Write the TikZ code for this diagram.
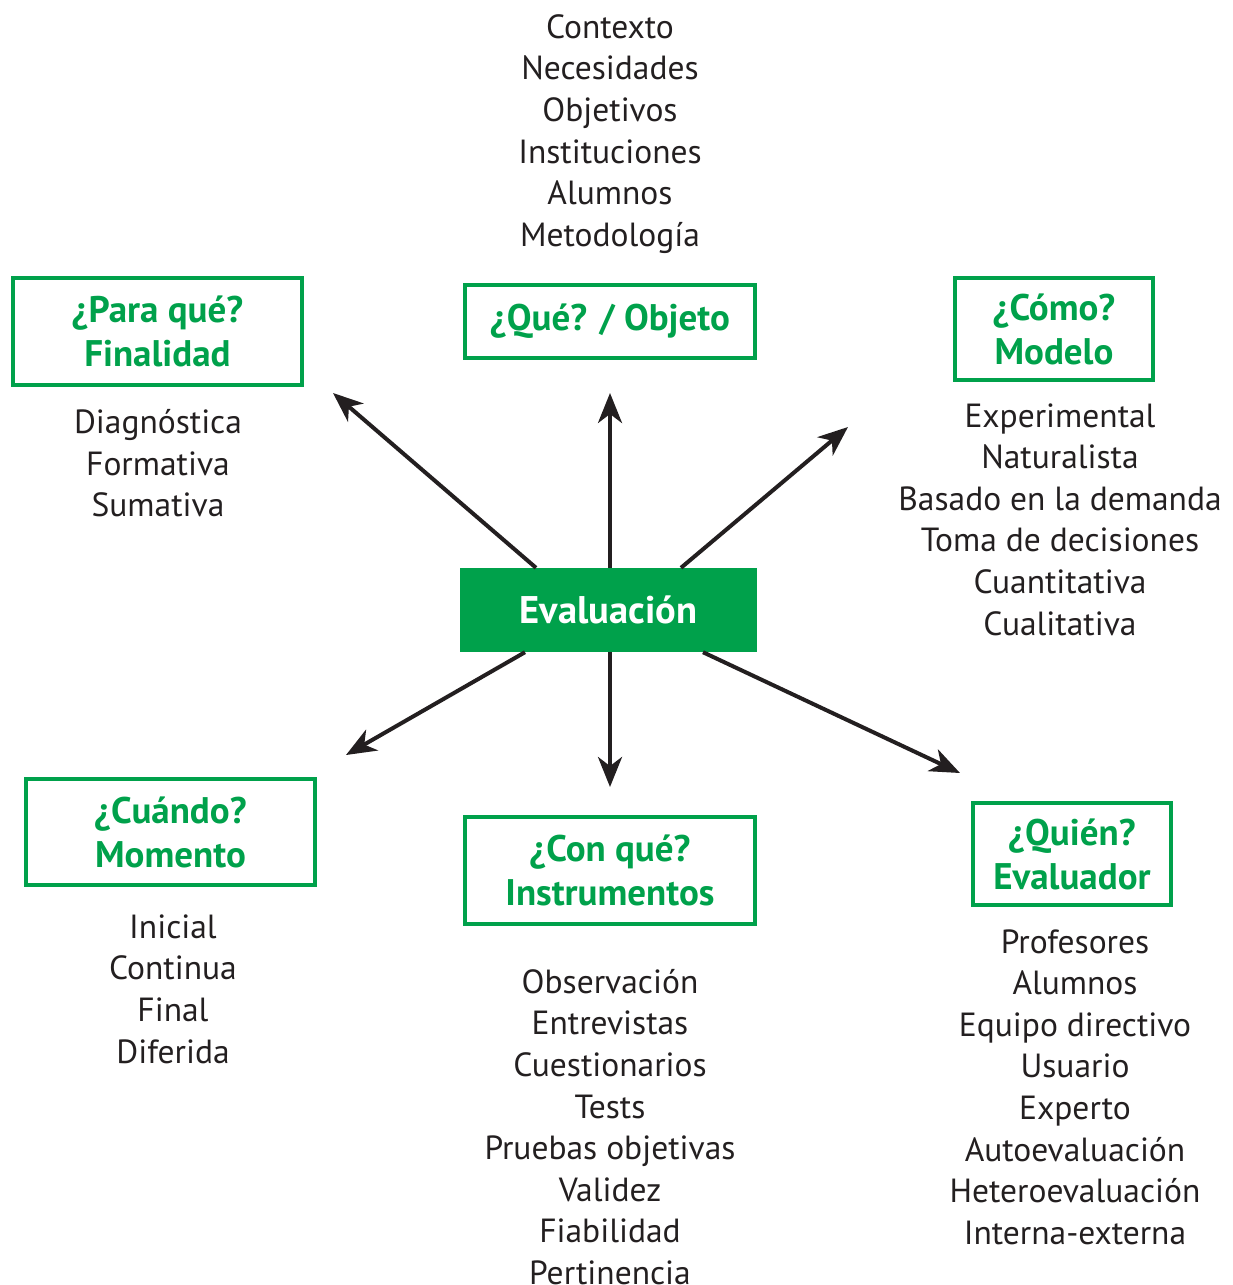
\documentclass[tikz,border=0pt]{standalone}
\usepackage{fontspec}
\setmainfont{PT Sans}
\usetikzlibrary{arrows.meta}
\definecolor{evgreen}{HTML}{00A14B}
\definecolor{ink}{HTML}{231F20}
\begin{document}
\begin{tikzpicture}[x=1pt,y=-1pt,
  lst/.style={align=center, inner sep=0pt, text=ink, font=\fontsize{33.5}{41.6}\selectfont},
  qbox/.style={draw=evgreen, line width=4pt, align=center, inner sep=0pt, text=evgreen, font=\bfseries\fontsize{37}{44}\selectfont},
  arr/.style={line width=4pt, draw=ink, -{Stealth[length=30pt,width=24pt,inset=9pt]}}]
\useasboundingbox (0,0) rectangle (1232,1285);

% central node
\node[fill=evgreen, minimum width=297pt, minimum height=84pt, inner sep=0pt, text=white, font=\bfseries\fontsize{38.5}{40}\selectfont] (eval) at (608.5,610) {Evaluación};

% question boxes
\node[qbox, minimum width=290pt, minimum height=73pt] (objeto) at (610,321.5) {¿Qué? / Objeto};
\node[qbox, minimum width=289pt, minimum height=107pt] (finalidad) at (157.5,331.5) {¿Para qué?\\Finalidad};
\node[qbox, minimum width=198pt, minimum height=102pt] (modelo) at (1054,329) {¿Cómo?\\Modelo};
\node[qbox, minimum width=289pt, minimum height=106pt] (momento) at (170.5,832) {¿Cuándo?\\Momento};
\node[qbox, minimum width=290pt, minimum height=107pt] (instrumentos) at (610,870.5) {¿Con qué?\\Instrumentos};
\node[qbox, minimum width=198pt, minimum height=102pt] (evaluador) at (1072,854) {¿Quién?\\Evaluador};

% lists
\node[lst] (lobjeto) at (610,134) {Contexto\\Necesidades\\Objetivos\\Instituciones\\Alumnos\\Metodología};
\node[lst] (lfinalidad) at (158,463.5) {Diagnóstica\\Formativa\\Sumativa};
\node[lst] (lmodelo) at (1060,519.5) {Experimental\\Naturalista\\Basado en la demanda\\Toma de decisiones\\Cuantitativa\\Cualitativa};
\node[lst] (lmomento) at (173,989) {Inicial\\Continua\\Final\\Diferida};
\node[lst] (linstrumentos) at (610,1127) {Observación\\Entrevistas\\Cuestionarios\\Tests\\Pruebas objetivas\\Validez\\Fiabilidad\\Pertinencia};
\node[lst] (levaluador) at (1075,1087) {Profesores\\Alumnos\\Equipo directivo\\Usuario\\Experto\\Autoevaluación\\Heteroevaluación\\Interna-externa};

% arrow tips
\coordinate (tfin) at (333,393);
\coordinate (tobj) at (610,393);
\coordinate (tmod) at (848,427);
\coordinate (tmom) at (346,755);
\coordinate (tins) at (610,787);
\coordinate (teva) at (960,773);

\draw[arr] ([xshift=-72.5pt]eval.north) -- (tfin);
\draw[arr] ([xshift=1.5pt]eval.north) -- (tobj);
\draw[arr] ([xshift=72.5pt]eval.north) -- (tmod);
\draw[arr] ([xshift=-83.5pt]eval.south) -- (tmom);
\draw[arr] ([xshift=1.5pt]eval.south) -- (tins);
\draw[arr] ([xshift=94.5pt]eval.south) -- (teva);
\end{tikzpicture}
\end{document}
